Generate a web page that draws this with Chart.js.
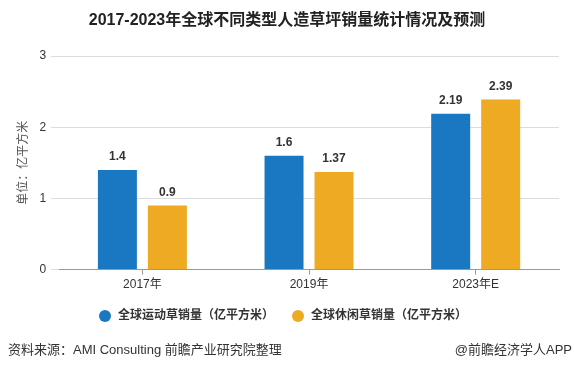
<!DOCTYPE html>
<html>
<head>
<meta charset="utf-8">
<script src="https://cdn.jsdelivr.net/npm/chart.js@4"></script>
<style>
  html, body { margin: 0; padding: 0; background: #fff; }
  #chart { display: block; }
</style>
</head>
<body>
<canvas id="chart" width="574" height="370"></canvas>
<script>
const FONT = "'Liberation Sans', 'Noto Sans CJK SC', sans-serif";

// Data
const categories = ['2017年', '2019年', '2023年E'];
const sportsGrass = [1.4, 1.6, 2.19];
const leisureGrass = [0.9, 1.37, 2.39];
const seriesNames = ['全球运动草销量（亿平方米）', '全球休闲草销量（亿平方米）'];
const yTicks = [0, 1, 2, 3];

const titleText = '2017-2023年全球不同类型人造草坪销量统计情况及预测';
const sourceText = '资料来源：AMI Consulting 前瞻产业研究院整理';
const brandText = '@前瞻经济学人APP';

// Value labels, title, legend and footer
const decorations = {
  id: 'decorations',
  afterDatasetsDraw(chart) {
    const { ctx } = chart;
    ctx.save();
    ctx.font = 'bold 12px ' + FONT;
    ctx.fillStyle = '#333';
    ctx.textAlign = 'center';
    ctx.textBaseline = 'bottom';
    chart.data.datasets.forEach((ds, i) => {
      chart.getDatasetMeta(i).data.forEach((bar, j) => {
        ctx.fillText(String(ds.data[j]), bar.x, bar.y - 7);
      });
    });
    ctx.restore();
  },
  afterDraw(chart) {
    const { ctx } = chart;
    ctx.save();
    // title
    ctx.font = 'bold 16px ' + FONT;
    ctx.fillStyle = '#222';
    ctx.textAlign = 'center';
    ctx.textBaseline = 'middle';
    ctx.fillText(titleText, 287, 21);

    // legend
    const legendX = [105, 298];
    ctx.font = 'bold 12px ' + FONT;
    ctx.textAlign = 'left';
    chart.data.datasets.forEach((ds, i) => {
      ctx.beginPath();
      ctx.arc(legendX[i], 316, 6, 0, Math.PI * 2);
      ctx.fillStyle = ds.backgroundColor;
      ctx.fill();
      ctx.fillStyle = '#333';
      ctx.fillText(ds.label, legendX[i] + 13, 316);
    });

    // footer
    ctx.font = '13px ' + FONT;
    ctx.fillStyle = '#333';
    ctx.fillText(sourceText, 8, 350);
    ctx.textAlign = 'right';
    ctx.fillText(brandText, 572, 350);
    ctx.restore();
  }
};

const ctx = document.getElementById('chart').getContext('2d');
const chart = new Chart(ctx, {
  type: 'bar',
  data: {
    labels: categories,
    datasets: [
      { label: seriesNames[0], data: sportsGrass, backgroundColor: '#1a78c2' },
      { label: seriesNames[1], data: leisureGrass, backgroundColor: '#eeaa22' }
    ]
  },
  options: {
    responsive: false,
    animation: false,
    layout: { padding: { top: 56, right: 15, bottom: 75, left: 12 } },
    datasets: { bar: { categoryPercentage: 0.6, barPercentage: 0.78 } },
    plugins: {
      legend: { display: false },
      title: { display: false },
      tooltip: { enabled: false }
    },
    scales: {
      x: {
        grid: { display: true, drawOnChartArea: false, offset: false, tickLength: 5, color: '#999' },
        border: { color: '#999' },
        ticks: { color: '#333', font: { size: 12, family: FONT }, padding: 3 }
      },
      y: {
        min: 0,
        max: 3,
        afterBuildTicks: (axis) => { axis.ticks = yTicks.map(v => ({ value: v })); },
        grid: { color: '#dcdcdc', tickLength: 8 },
        border: { display: false },
        ticks: { color: '#333', font: { size: 12, family: FONT }, padding: 5 },
        title: { display: true, text: '单位：亿平方米', color: '#555', font: { size: 12, family: FONT }, padding: 4 }
      }
    }
  },
  plugins: [decorations]
});
</script>
</body>
</html>
